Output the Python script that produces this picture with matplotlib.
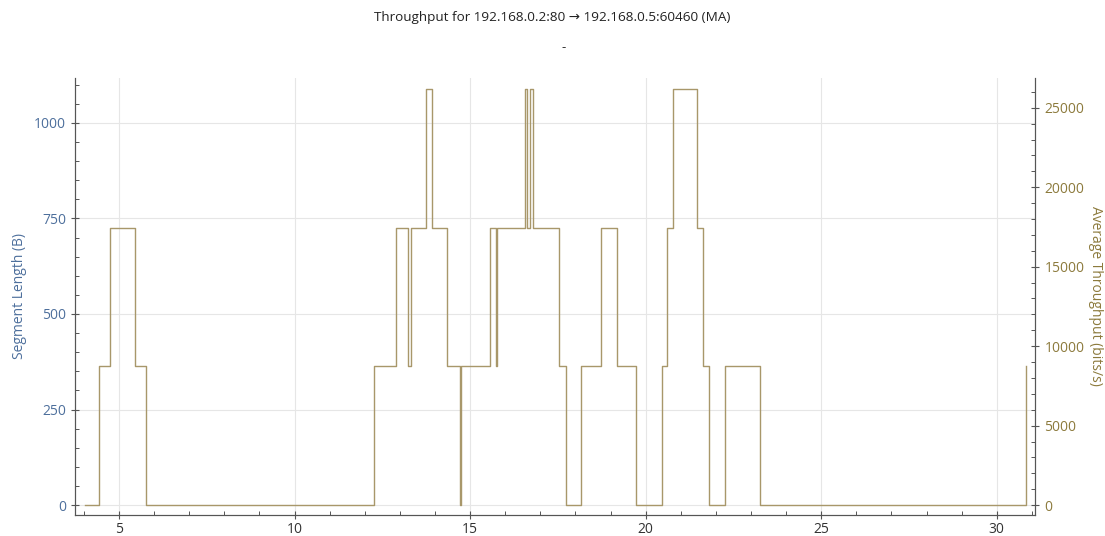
import matplotlib.pyplot as plt
from matplotlib.ticker import MultipleLocator

plt.rcParams['font.family'] = ['Open Sans', 'DejaVu Sans']

# step times (s) and throughput level (bits/s) from each time on
times = [4.03, 4.44, 4.75, 5.45, 5.76, 12.25, 12.89, 13.24, 13.31, 13.75, 13.90,
         14.34, 14.71, 14.74, 15.58, 15.73, 15.77, 16.55, 16.62, 16.71, 16.80,
         17.54, 17.73, 18.16, 18.73, 19.17, 19.72, 20.46, 20.62, 20.79, 21.46,
         21.63, 21.79, 22.25, 23.26, 30.84]
throughput = [0, 8720, 17440, 8720, 0, 8720, 17440, 8720, 17440, 26160, 17440,
              8720, 0, 8720, 17440, 8720, 17440, 26160, 17440, 26160, 17440,
              8720, 0, 8720, 17440, 8720, 0, 8720, 17440, 26160, 17440,
              8720, 0, 8720, 0, 8720]

title = "Throughput for 192.168.0.2:80 \u2192 192.168.0.5:60460 (MA)"
left_color = "#4d6f9c"
right_color = "#8c7a3c"
line_color = "#a8976a"

fig = plt.figure(figsize=(11.05, 5.36), dpi=100)
ax = fig.add_axes([0.068, 0.039, 0.869, 0.816])
ax2 = ax.twinx()

ax2.plot(times, throughput, drawstyle="steps-post", color=line_color, lw=1.0)

ax.set_xlim(3.75, 31.1)
ax.set_ylim(-26, 1118)
ax2.set_ylim(-630, 26890)

ax.xaxis.set_major_locator(MultipleLocator(5))
ax.xaxis.set_minor_locator(MultipleLocator(1))
ax.yaxis.set_major_locator(MultipleLocator(250))
ax.yaxis.set_minor_locator(MultipleLocator(50))
ax2.yaxis.set_major_locator(MultipleLocator(5000))
ax2.yaxis.set_minor_locator(MultipleLocator(1000))

ax.grid(True, which="major", color="#e6e6e6", lw=0.8)
ax.set_axisbelow(True)

for a in (ax, ax2):
    for s in a.spines.values():
        s.set_color("#555555")
        s.set_linewidth(0.8)
    a.spines["top"].set_visible(False)
    a.tick_params(which="major", direction="inout", length=6, width=0.8, color="#555555", labelsize=10)
    a.tick_params(which="minor", direction="in", length=3, width=0.7, color="#555555")

ax.tick_params(axis="y", labelcolor=left_color)
ax.tick_params(axis="x", labelcolor="#333333", pad=2)
ax2.tick_params(axis="y", labelcolor=right_color)

ax.set_ylabel("Segment Length (B)", color=left_color, fontsize=10)
ax.yaxis.set_label_coords(-0.05, 0.5)
ax2.set_ylabel("Average Throughput (bits/s)", color=right_color, fontsize=10, rotation=-90)
ax2.yaxis.set_label_coords(1.07, 0.5)

fig.text(0.5, 0.968, title, ha="center", va="center", fontsize=9.7, color="#222222")
fig.text(0.51, 0.912, "-", ha="center", va="center", fontsize=9.5, color="#222222")

fig.savefig("out.png", dpi=100)
